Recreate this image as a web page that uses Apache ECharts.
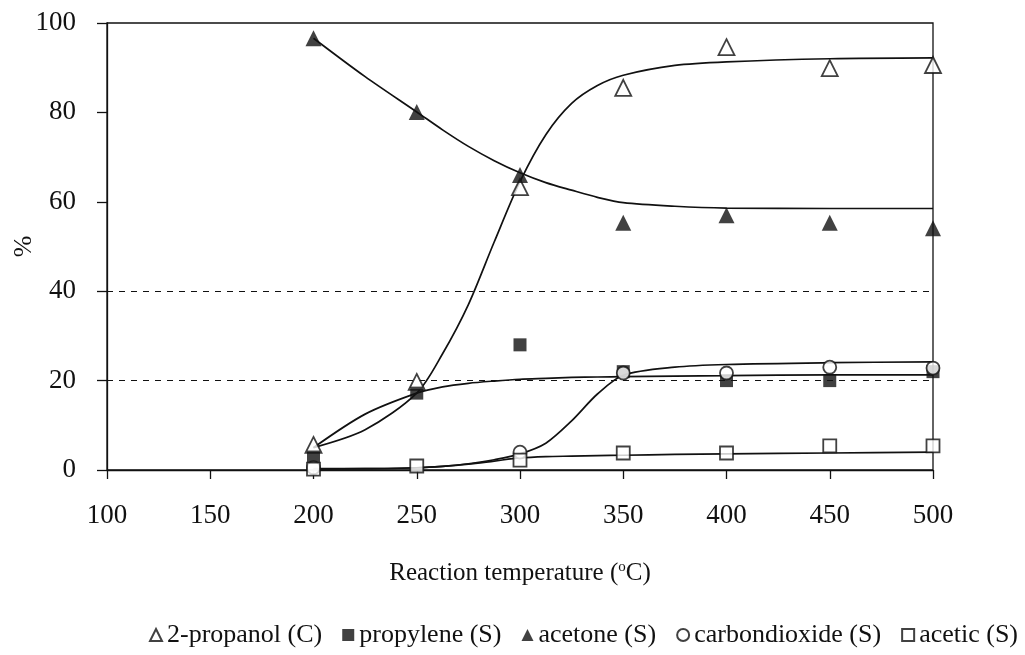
<!DOCTYPE html>
<html>
<head>
<meta charset="utf-8">
<script src="https://cdn.jsdelivr.net/npm/echarts@6/dist/echarts.min.js"></script>
<style>
html,body{margin:0;padding:0;background:#fff;}
#chart{width:1025px;height:655px;}
</style>
</head>
<body>
<div id="chart"></div>
<script>
// measured points (temperature, %)
const temps = [200, 250, 300, 350, 400, 450, 500];
const propanolC = [5.6, 19.7, 63.3, 85.5, 94.6, 89.9, 90.6];
const propyleneS = [2.9, 17.2, 28, 22, 20, 20, 22];
const acetoneS = [96.6, 80.1, 66, 55.3, 57, 55.3, 54.1];
const co2S = [0.5, null, 4, 21.7, 21.7, 23, 22.8];
const aceticS = [0.2, 0.9, 2.2, 3.8, 3.8, 5.4, 5.4];

// fitted trend curves
const fitX = [200, 225, 250, 262.5, 275, 287.5, 300, 312.5, 325, 337.5, 350, 375, 400, 450, 500];
const propanolFit = [5, 9, 17.2, 26, 37, 51, 64.5, 75, 82, 86, 88.3, 90.5, 91.3, 92, 92.2];
const propyleneFit = [5, 12.5, 17.2, 18.6, 19.4, 19.9, 20.3, 20.5, 20.7, 20.8, 20.9, 21, 21.1, 21.3, 21.3];
const acetoneFit = [96.6, 88, 80.1, 76.1, 72.4, 69.2, 66.5, 64.3, 62.6, 61, 59.8, 59, 58.6, 58.5, 58.5];
const co2Fit = [0.3, 0.3, 0.5, 0.8, 1.4, 2.3, 3.6, 6, 11, 17, 21.2, 23, 23.6, 24, 24.2];
const aceticFit = [0.2, 0.3, 0.5, 0.8, 1.3, 2, 2.7, 3, 3.1, 3.2, 3.3, 3.5, 3.6, 3.8, 4];

const names = ['2-propanol (C)', 'propylene (S)', 'acetone (S)', 'carbondioxide (S)', 'acetic (S)'];
const pts = [propanolC, propyleneS, acetoneS, co2S, aceticS];
const fits = [propanolFit, propyleneFit, acetoneFit, co2Fit, aceticFit];
const symbols = ['triangle', 'rect', 'triangle', 'circle', 'rect'];
const hollow = [true, false, false, true, true];
const sizes = [16, 13, 16, 13, 13];

const pair = (xs, ys) => xs.map((x, i) => [x, ys[i]]);
const ink = '#111';
const serif = '"Liberation Serif", "DejaVu Serif", serif';

let series = fits.map(function(f, i) {
    return {
        type: 'line',
        data: pair(fitX, f),
        smooth: 0.3,
        showSymbol: false,
        silent: true,
        z: 2,
        lineStyle: {color: ink, width: 1.7},
        markLine: i === 0 ? {
            silent: true,
            symbol: 'none',
            label: {show: false},
            lineStyle: {color: ink, type: [6, 6], width: 1},
            data: [{yAxis: 20}, {yAxis: 40}]
        } : undefined
    };
}).concat(pts.map(function(p, i) {
    return {
        name: names[i],
        type: 'scatter',
        data: pair(temps, p).filter(d => d[1] !== null),
        symbol: symbols[i],
        symbolSize: sizes[i],
        z: 5,
        itemStyle: hollow[i]
            ? {color: '#fff', borderColor: ink, borderWidth: 1.8}
            : {color: ink, borderColor: ink, borderWidth: 0}
    };
}));

const chart = echarts.init(document.getElementById('chart'));
chart.setOption({
    backgroundColor: '#fff',
    animation: false,
    grid: {left: 107, right: 92, top: 23, bottom: 185, show: true, borderColor: ink, borderWidth: 1.3, outerBoundsMode: 'none'},
    xAxis: {
        type: 'value', min: 100, max: 500, interval: 50,
        name: 'Reaction temperature ({s|o}C)',
        nameLocation: 'middle', nameGap: 90,
        nameTextStyle: {fontFamily: serif, fontSize: 25, color: ink, rich: {s: {fontSize: 15, verticalAlign: 'top', padding: [0, 0, 12, 0], fontFamily: serif, color: ink}}},
        axisLine: {lineStyle: {color: ink, width: 1.3}},
        axisTick: {inside: false, length: 9, lineStyle: {color: ink, width: 1.3}},
        axisLabel: {fontFamily: serif, fontSize: 27, color: ink, margin: 32},
        splitLine: {show: false}
    },
    yAxis: {
        type: 'value', min: 0, max: 100, interval: 20,
        name: '%', nameLocation: 'middle', nameGap: 70, nameRotate: 90,
        nameMoveOverlap: false,
        nameTextStyle: {fontFamily: serif, fontSize: 26, color: ink},
        axisLine: {show: true, lineStyle: {color: ink, width: 1.3}},
        axisTick: {show: true, inside: false, length: 10, lineStyle: {color: ink, width: 1.3}},
        axisLabel: {fontFamily: serif, fontSize: 27, color: ink, margin: 31},
        splitLine: {show: false}
    },
    legend: {
        data: names,
        bottom: 2,
        left: 144,
        width: 880,
        itemWidth: 12,
        itemHeight: 12,
        itemGap: 20,
        textStyle: {fontFamily: serif, fontSize: 26, color: ink}
    },
    series: series
});
</script>
</body>
</html>
